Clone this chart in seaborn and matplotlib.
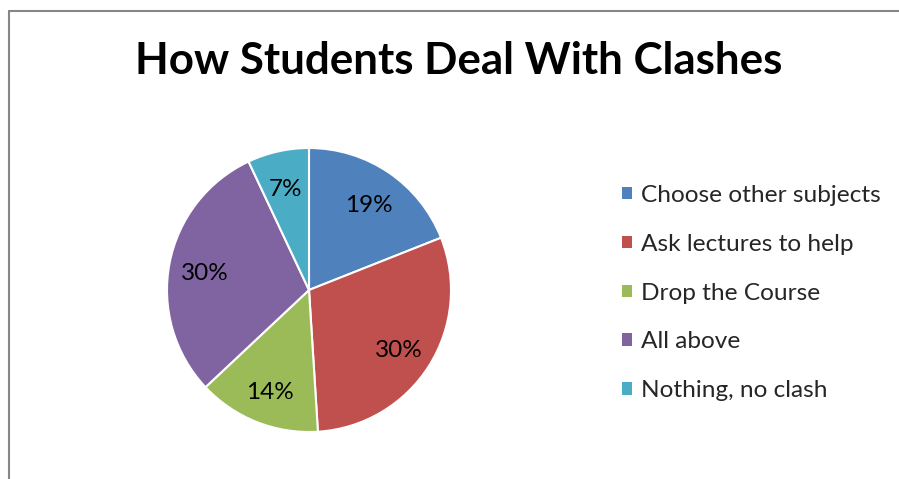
import matplotlib
matplotlib.use("Agg")
import matplotlib.pyplot as plt
from matplotlib.lines import Line2D
import seaborn as sns

# Survey responses: how students deal with timetable clashes
categories = ["Choose other subjects", "Ask lectures to help", "Drop the Course",
              "All above", "Nothing, no clash"]
shares = [19, 30, 14, 30, 7]
colors = ["#4F81BD", "#C0504D", "#9BBB59", "#8064A2", "#4BACC6"]
title = "How Students Deal With Clashes"

sns.set_theme(style="white")
plt.rcParams["font.family"] = ["Lato", "DejaVu Sans"]

W, H = 899, 479
fig = plt.figure(figsize=(W / 100, H / 100), dpi=100)
fig.patch.set_facecolor("white")

# Chart frame (left and top edges visible)
fig.add_artist(Line2D([9 / W, 9 / W], [0, 1 - 11 / H], transform=fig.transFigure,
                      color="#868686", lw=1.5))
fig.add_artist(Line2D([9 / W, 1], [1 - 11 / H, 1 - 11 / H], transform=fig.transFigure,
                      color="#868686", lw=1.5))

fig.text(459 / W, 1 - 61 / H, title, ha="center", va="center",
         fontsize=31.6, fontweight="bold", color="black")

# Pie area
cx, cy, r = 309, 290, 142
ax = fig.add_axes([(cx - r) / W, (H - cy - r) / H, 2 * r / W, 2 * r / H])
wedges, texts, autotexts = ax.pie(
    shares, colors=colors, startangle=90, counterclock=False,
    autopct=lambda p: f"{p:.0f}%", pctdistance=0.75,
    wedgeprops=dict(edgecolor="white", linewidth=1.5),
    textprops=dict(fontsize=17.5, color="black"),
    radius=1.0,
)
for t in autotexts:
    x, y = t.get_position()
    t.set_position((x, y - 0.025))
ax.set_xlim(-1.0, 1.0)
ax.set_ylim(-1.0, 1.0)
ax.set_aspect("equal")
ax.axis("off")

# Legend
handles = [plt.Rectangle((0, 0), 1, 1, facecolor=c, edgecolor="none") for c in colors]
fig.legend(handles, categories, loc="upper left", bbox_to_anchor=(612 / W, 1 - 175 / H),
           frameon=False, fontsize=17.6, handlelength=0.4, handleheight=0.4,
           handletextpad=0.4, labelspacing=1.14, borderaxespad=0)

fig.savefig("out.png", dpi=100, facecolor="white")
